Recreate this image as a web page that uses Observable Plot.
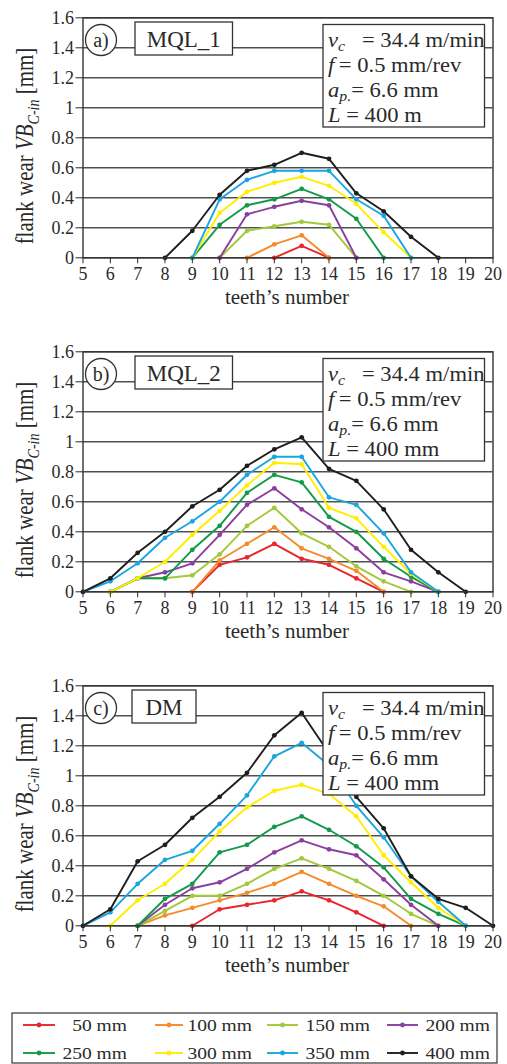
<!DOCTYPE html>
<html>
<head>
<meta charset="utf-8">
<script src="https://cdn.jsdelivr.net/npm/d3@7"></script>
<script src="https://cdn.jsdelivr.net/npm/@observablehq/plot@0.6"></script>
<style>
  body { margin: 0; background: #fff; font-family: "Liberation Serif", "Times New Roman", serif; }
  #wrap { width: 507px; }
  svg { display: block; }
</style>
</head>
<body>
<div id="wrap"></div>
<script>
const _ = null;
// teeth numbers (x axis) and y tick values
const teeth = [5, 6, 7, 8, 9, 10, 11, 12, 13, 14, 15, 16, 17, 18, 19, 20];
const yTicks = [0, 0.2, 0.4, 0.6, 0.8, 1, 1.2, 1.4, 1.6];
const seriesNames = ["50 mm", "100 mm", "150 mm", "200 mm", "250 mm", "300 mm", "350 mm", "400 mm"];
const seriesColors = ["#e8262b", "#f68b2c", "#a3c83a", "#8a3f9c", "#119a49", "#ffee00", "#1ba5de", "#1e1e1e"];

// Panel a) MQL_1  — flank wear per tooth (teeth 5..20)
const a50  = [_, _, _, _, _, _, _, 0, 0.08, 0, _, _, _, _, _, _];
const a100 = [_, _, _, _, _, _, 0, 0.09, 0.15, 0, _, _, _, _, _, _];
const a150 = [_, _, _, _, _, 0, 0.18, 0.21, 0.24, 0.22, 0, _, _, _, _, _];
const a200 = [_, _, _, _, _, 0, 0.29, 0.34, 0.38, 0.35, 0, _, _, _, _, _];
const a250 = [_, _, _, _, 0, 0.22, 0.35, 0.39, 0.46, 0.39, 0.26, 0, _, _, _, _];
const a300 = [_, _, _, _, 0, 0.30, 0.44, 0.50, 0.54, 0.48, 0.36, 0.17, 0, _, _, _];
const a350 = [_, _, _, _, 0, 0.39, 0.52, 0.58, 0.58, 0.58, 0.39, 0.28, 0, _, _, _];
const a400 = [_, _, _, 0, 0.18, 0.42, 0.58, 0.62, 0.70, 0.66, 0.43, 0.31, 0.14, 0, _, _];

// Panel b) MQL_2
const b50  = [_, _, _, _, 0, 0.18, 0.23, 0.32, 0.22, 0.18, 0.09, 0, _, _, _, _];
const b100 = [_, _, _, _, 0, 0.21, 0.32, 0.43, 0.29, 0.22, 0.14, 0, _, _, _, _];
const b150 = [_, 0, 0.09, 0.09, 0.11, 0.25, 0.44, 0.56, 0.39, 0.30, 0.17, 0.07, 0, _, _, _];
const b200 = [_, 0, 0.09, 0.13, 0.19, 0.38, 0.58, 0.69, 0.55, 0.43, 0.29, 0.13, 0.07, 0, _, _];
const b250 = [_, 0, 0.09, 0.09, 0.28, 0.44, 0.66, 0.78, 0.73, 0.50, 0.40, 0.22, 0.10, 0, _, _];
const b300 = [_, 0, 0.09, 0.20, 0.38, 0.54, 0.71, 0.86, 0.85, 0.56, 0.49, 0.30, 0.12, 0, _, _];
const b350 = [0, 0.07, 0.19, 0.36, 0.47, 0.60, 0.78, 0.90, 0.90, 0.63, 0.58, 0.39, 0.13, 0, _, _];
const b400 = [0, 0.09, 0.26, 0.40, 0.57, 0.68, 0.84, 0.95, 1.03, 0.82, 0.74, 0.55, 0.28, 0.13, 0, _];

// Panel c) DM
const c50  = [_, _, _, _, 0, 0.11, 0.14, 0.17, 0.23, 0.17, 0.09, 0, _, _, _, _];
const c100 = [_, _, 0, 0.07, 0.12, 0.17, 0.22, 0.28, 0.36, 0.28, 0.20, 0.13, 0, _, _, _];
const c150 = [_, _, 0, 0.10, 0.20, 0.20, 0.28, 0.38, 0.45, 0.38, 0.30, 0.20, 0.08, 0, _, _];
const c200 = [_, _, 0, 0.14, 0.25, 0.29, 0.38, 0.49, 0.57, 0.51, 0.47, 0.31, 0.14, 0, _, _];
const c250 = [_, _, 0, 0.18, 0.28, 0.49, 0.54, 0.66, 0.73, 0.64, 0.53, 0.39, 0.18, 0.08, 0, _];
const c300 = [_, 0, 0.17, 0.28, 0.44, 0.63, 0.79, 0.90, 0.94, 0.88, 0.73, 0.47, 0.29, 0.12, 0, _];
const c350 = [0, 0.09, 0.28, 0.44, 0.50, 0.68, 0.87, 1.13, 1.22, 1.07, 0.80, 0.59, 0.33, 0.16, 0, _];
const c400 = [0, 0.11, 0.43, 0.54, 0.72, 0.86, 1.02, 1.27, 1.42, 1.15, 0.86, 0.65, 0.33, 0.18, 0.12, 0];

const panelTags = ["a)", "b)", "c)"];
const panelNames = ["MQL_1", "MQL_2", "DM"];
const panelLengths = ["400 m", "400 mm", "400 mm"];
const panelSeries = [
  [a50, a100, a150, a200, a250, a300, a350, a400],
  [b50, b100, b150, b200, b250, b300, b350, b400],
  [c50, c100, c150, c200, c250, c300, c350, c400]
];

const FONT = '"Liberation Serif", "Times New Roman", serif';
const INK = "#2a2a2a";
const wrap = document.getElementById("wrap");

function tidy(series) {
  const rows = [];
  series.forEach((vals, i) => vals.forEach((v, j) => {
    if (v !== null) rows.push({ tooth: teeth[j], wear: v, s: seriesNames[i] });
  }));
  return rows;
}

function drawPanel(p) {
  const rows = tidy(panelSeries[p]);
  const marks = [Plot.ruleY(yTicks, { stroke: "#505050", strokeWidth: 1.4 })];
  seriesNames.forEach(name => {
    const d = rows.filter(r => r.s === name);
    marks.push(Plot.line(d, { x: "tooth", y: "wear", stroke: "s", strokeWidth: 1.9 }));
    marks.push(Plot.dot(d, { x: "tooth", y: "wear", fill: "s", r: 2.4 }));
  });
  marks.push(Plot.frame({ stroke: "#333", strokeWidth: 1.4 }));
  marks.push(Plot.axisY({ ticks: yTicks, tickFormat: d => String(d), tickSize: 7, tickPadding: 2, label: null }));
  marks.push(Plot.axisX({ ticks: teeth, tickFormat: d => String(d), tickSize: 6, tickPadding: 3, label: null }));

  const svg = Plot.plot({
    width: 507, height: 334,
    marginLeft: 82.5, marginRight: 14.5, marginTop: 17.3, marginBottom: 76.7,
    style: { fontFamily: FONT, fontSize: "18px", color: INK, background: "#fff", overflow: "visible" },
    x: { domain: [5, 20] },
    y: { domain: [0, 1.6] },
    color: { domain: seriesNames, range: seriesColors },
    marks
  });

  const g = d3.select(svg).append("g").attr("font-family", FONT)
    .style("fill", INK).attr("text-anchor", "start");

  // y axis title
  const yl = g.append("text")
    .attr("transform", "translate(33,146) scale(1.15,1) rotate(-90)")
    .attr("text-anchor", "middle").attr("font-size", 21);
  yl.append("tspan").text("flank wear ");
  yl.append("tspan").attr("font-style", "italic").text("VB");
  yl.append("tspan").attr("font-style", "italic").attr("font-size", 14).attr("dy", 5).text("C-in");
  yl.append("tspan").attr("dy", -5).text("\u00a0[mm]");

  // x axis title
  g.append("text").attr("x", 287).attr("y", 304).attr("text-anchor", "middle")
    .attr("font-size", 21).text("teeth\u2019s number");

  // panel tag circle
  g.append("circle").attr("cx", 101).attr("cy", 40).attr("r", 15.5)
    .style("fill", "#fff").style("stroke", "#333").style("stroke-width", 1.3);
  g.append("text").attr("x", 101).attr("y", 46.5).attr("text-anchor", "middle")
    .attr("font-size", 20).text(panelTags[p]);

  // name box
  const bx = p === 2 ? 132 : 135, bw = p === 2 ? 64 : 97.5;
  g.append("rect").attr("x", bx).attr("y", 22).attr("width", bw).attr("height", 33)
    .style("fill", "#fff").style("stroke", "#333").style("stroke-width", 1.3);
  g.append("text").attr("x", bx + bw / 2).attr("y", 46.5).attr("text-anchor", "middle")
    .attr("font-size", 23).text(panelNames[p]);

  // parameter box
  g.append("rect").attr("x", 323).attr("y", 24.5).attr("width", 161.5).attr("height", 102.5)
    .style("fill", "#fff").style("stroke", "#333").style("stroke-width", 1.3);
  const line = (y) => g.append("g").attr("transform", `translate(328,${y}) scale(1.13,1)`)
    .append("text").attr("text-anchor", "start").attr("font-size", 20);
  let t = line(47);
  t.append("tspan").attr("font-style", "italic").text("v");
  t.append("tspan").attr("font-style", "italic").attr("font-size", 14).attr("dy", 4).text("c");
  t.append("tspan").attr("dy", -4).text("\u2002\u00a0= 34.4 m/min");
  t = line(72);
  t.append("tspan").attr("font-style", "italic").text("f");
  t.append("tspan").text("\u2009= 0.5 mm/rev");
  t = line(97);
  t.append("tspan").attr("font-style", "italic").text("a");
  t.append("tspan").attr("font-style", "italic").attr("font-size", 14).attr("dy", 4).text("p.");
  t.append("tspan").attr("dy", -4).text("= 6.6 mm");
  t = line(122);
  t.append("tspan").attr("font-style", "italic").text("L");
  t.append("tspan").text(" = " + panelLengths[p]);

  wrap.appendChild(svg);
}

[0, 1, 2].forEach(drawPanel);

// legend
const leg = d3.create("svg").attr("width", 507).attr("height", 62)
  .attr("font-family", FONT);
leg.append("rect").attr("x", 12).attr("y", 11).attr("width", 485).attr("height", 50)
  .attr("fill", "#fff").attr("stroke", "#444").attr("stroke-width", 1.3);
const colLine = [[23, 55], [155, 183], [267, 298], [387, 418]];
const colTextEnd = [127, 252, 370, 490];
const rowY = [23, 51];
seriesNames.forEach((name, i) => {
  const r = Math.floor(i / 4), c = i % 4;
  const [x0, x1] = colLine[c];
  const y = rowY[r];
  leg.append("line").attr("x1", x0).attr("x2", x1).attr("y1", y).attr("y2", y)
    .attr("stroke", seriesColors[i]).attr("stroke-width", 1.9);
  leg.append("circle").attr("cx", (x0 + x1) / 2).attr("cy", y).attr("r", 2.4).attr("fill", seriesColors[i]);
  leg.append("g").attr("transform", `translate(${colTextEnd[c]},${y + 6}) scale(1.15,1)`)
    .append("text").attr("text-anchor", "end").attr("font-size", 17).attr("fill", INK).text(name);
});
wrap.appendChild(leg.node());
</script>
</body>
</html>
